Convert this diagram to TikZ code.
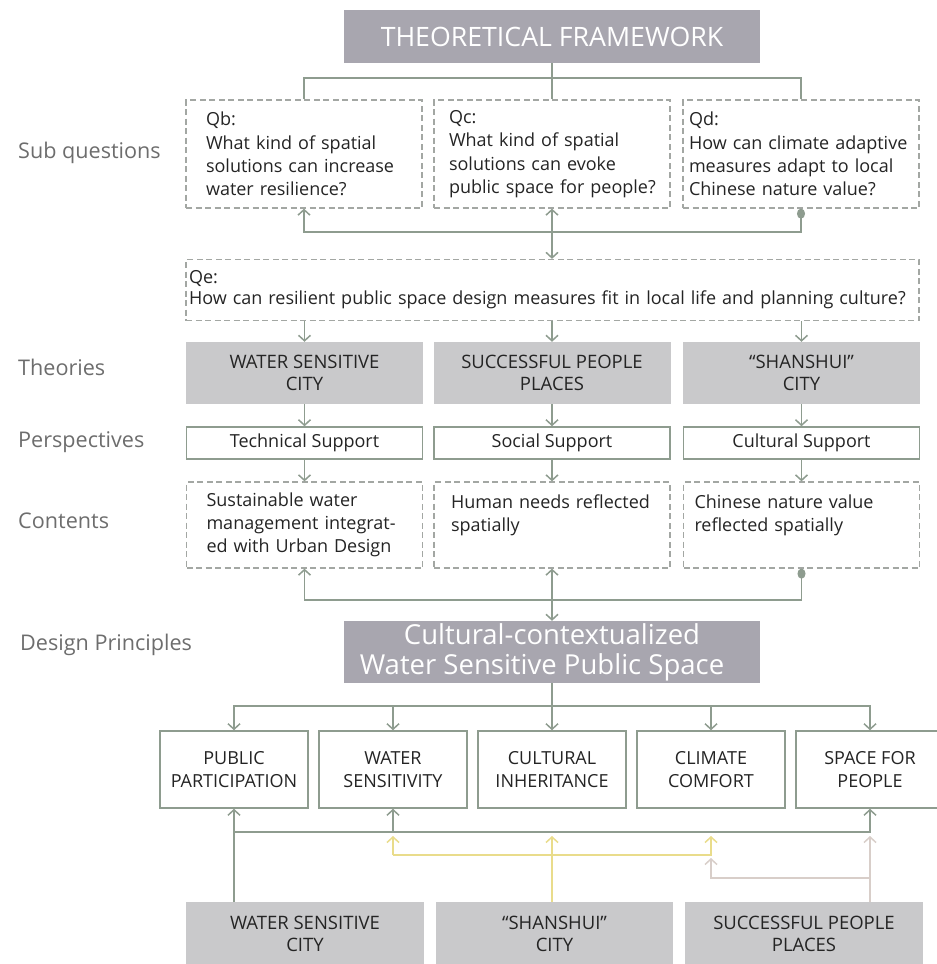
\documentclass[tikz,border=0pt]{standalone}
\usepackage{fontspec}
\setmainfont{Open Sans}
\usetikzlibrary{arrows.meta,calc}
\definecolor{titlegray}{HTML}{A8A6AF}
\definecolor{theorygray}{HTML}{C9C9CB}
\definecolor{connc}{HTML}{8E9C8F}
\definecolor{dashc}{HTML}{A3A7A3}
\definecolor{labelc}{HTML}{6D6D6D}
\definecolor{textc}{HTML}{242424}
\definecolor{yelc}{HTML}{E9DC8B}
\definecolor{beic}{HTML}{D8CEC9}
\begin{document}
\begin{tikzpicture}[x=1pt,y=-1pt,
  conn/.style={draw=connc, line width=1.5pt},
  yelline/.style={draw=yelc, line width=1.5pt},
  beiline/.style={draw=beic, line width=1.5pt},
  arrowend/.style={-{Straight Barb[length=5.5pt,width=12pt]}},
  bothends/.style={{Straight Barb[length=5.5pt,width=12pt]}-{Straight Barb[length=5.5pt,width=12pt]}},
  dotend/.style={-{Ellipse[length=10pt,width=8pt]}},
  sidelabel/.style={anchor=west, text=labelc, font=\fontsize{21.6}{25}\selectfont, inner sep=0pt},
  bodyfont/.style={font=\fontsize{18}{23.3}\selectfont, text=textc},
  dashbox/.style={draw=dashc, line width=1.3pt, dash pattern=on 6pt off 3.5pt},
  qbox/.style={bodyfont, dashbox, minimum width=236pt, minimum height=108pt, align=left},
  cobox/.style={bodyfont, dashbox, minimum width=236pt, minimum height=86pt, align=left},
  thbox/.style={font=\fontsize{18.5}{22.5}\selectfont, text=textc, fill=theorygray, minimum width=237pt, minimum height=62pt, align=center, inner sep=0pt},
  pebox/.style={bodyfont, draw=connc, line width=1.5pt, fill=white, minimum width=236pt, minimum height=32pt, inner sep=0pt},
  prbox/.style={bodyfont, draw=connc, line width=1.5pt, fill=white, minimum width=148pt, minimum height=77pt, align=center, inner sep=0pt},
  headbox/.style={fill=titlegray, text=white, align=center, inner sep=0pt}
]
\useasboundingbox (0,0) rectangle (937,964);

% title
\node[headbox, minimum width=416pt, minimum height=53pt, font=\fontsize{26.7}{30}\selectfont] (title) at (552,36.5) {THEORETICAL FRAMEWORK};

% side labels
\node[sidelabel] (lsub) at (18,153) {Sub questions};
\node[sidelabel] (lth) at (18,367) {Theories};
\node[sidelabel] (lpe) at (18,442) {Perspectives};
\node[sidelabel] (lco) at (18,521) {Contents};
\node[sidelabel] (lds) at (20,645) {Design Principles};

% sub questions
\node[qbox, text width=196pt, inner xsep=20pt] (qb) at (304,154) {Qb:\\What kind of spatial\\solutions can increase\\water resilience?};
\node[qbox, text width=206pt, inner xsep=15pt] (qc) at (552,154) {Qc:\\What kind of spatial\\solutions can evoke\\\mbox{public space for people?}};
\node[qbox, text width=224pt, inner xsep=6pt] (qd) at (801,154) {Qd:\\How can climate adaptive\\measures adapt to local\\Chinese nature value?};

\node[dashbox, text=textc, minimum width=733pt, minimum height=61pt, text width=727pt, inner xsep=3pt, align=left, font=\fontsize{18}{21}\selectfont] (qe) at (552.5,290)
  {Qe:\\\mbox{How can resilient public space design measures fit in local life and planning culture?}};

% theories
\node[thbox] (th1) at (304.5,373) {WATER SENSITIVE\\CITY};
\node[thbox] (th2) at (552,373) {SUCCESSFUL PEOPLE\\PLACES};
\node[thbox] (th3) at (801.5,373) {“SHANSHUI”\\CITY};

% perspectives
\node[pebox] (pe1) at (304.5,443) {Technical Support};
\node[pebox] (pe2) at (552,443) {Social Support};
\node[pebox] (pe3) at (801.5,443) {Cultural Support};

% contents
\node[cobox, inner xsep=20pt, text width=196pt] (co1) at (304.5,525) {Sustainable water\\management integrat-\\ed with Urban Design};
\node[cobox, inner xsep=17pt, text width=202pt] (co2) at (552,525) {Human needs reflected\\spatially\\\mbox{}};
\node[cobox, inner xsep=11pt, text width=214pt] (co3) at (801.5,525) {Chinese nature value\\reflected spatially\\\mbox{}};

% design box
\node[headbox, minimum width=416pt, minimum height=62pt, font=\fontsize{27.5}{30}\selectfont] (ds) at (552,652) {Cultural-contextualized\\Water Sensitive Public Space\hspace*{20pt}};

% principles
\node[prbox] (p1) at (234,769.5) {PUBLIC\\PARTICIPATION};
\node[prbox] (p2) at (393,769.5) {WATER\\SENSITIVITY};
\node[prbox] (p3) at (552,769.5) {CULTURAL\\INHERITANCE};
\node[prbox] (p4) at (711,769.5) {CLIMATE\\COMFORT};
\node[prbox] (p5) at (870,769.5) {SPACE FOR\\PEOPLE};

% bottom theories
\node[thbox, minimum width=238pt, minimum height=64pt] (b1) at (305,934) {WATER SENSITIVE\\CITY};
\node[thbox, minimum width=237pt, minimum height=64pt] (b2) at (554.5,934) {“SHANSHUI”\\CITY};
\node[thbox, minimum width=238pt, minimum height=64pt] (b3) at (804,934) {SUCCESSFUL PEOPLE\\PLACES};

% junction coordinates
\coordinate (j1) at (552,78);
\coordinate (j2) at (552,232);
\coordinate (j3) at (552,600);
\coordinate (j4) at (552,706);
\coordinate (g1) at (234,832);
\coordinate (yt2) at (393,836);
\coordinate (yt3) at (552,836);
\coordinate (yt4) at (711,836);
\coordinate (yl) at (393,855);
\coordinate (yr) at (711,855);
\coordinate (bt5) at (870,836);
\coordinate (br) at (870,878);
\coordinate (bl) at (711,878);
\coordinate (bt4) at (711,858);

% top connectors
\draw[conn] (title.south) -- (j1);
\draw[conn] (j1) -| (qb.north);
\draw[conn] (j1) -| (qd.north);
\draw[conn] (j1) -- (qc.north);

\draw[conn, bothends] (qc.south) -- (qe.north -| qc.south);
\draw[conn, arrowend] (j2) -| (qb.south);
\draw[conn, dotend] (j2) -| (qd.south);

% qe to theories
\draw[conn, arrowend] (qe.south -| th1.north) -- (th1.north);
\draw[conn, arrowend] (qe.south -| th2.north) -- (th2.north);
\draw[conn, arrowend] (qe.south -| th3.north) -- (th3.north);

\draw[conn, arrowend] (th1.south) -- (pe1.north);
\draw[conn, arrowend] (th2.south) -- (pe2.north);
\draw[conn, arrowend] (th3.south) -- (pe3.north);

\draw[conn, arrowend] (pe1.south) -- (co1.north);
\draw[conn, arrowend] (pe2.south) -- (co2.north);
\draw[conn, arrowend] (pe3.south) -- (co3.north);

% contents to design
\draw[conn, bothends] (co2.south) -- (ds.north);
\draw[conn, arrowend] (j3) -| (co1.south);
\draw[conn, dotend] (j3) -| (co3.south);

% design to principles
\draw[conn] (ds.south) -- (j4);
\draw[conn, arrowend] (j4) -| (p1.north);
\draw[conn, arrowend] (j4) -| (p2.north);
\draw[conn, arrowend] (j4) -- (p3.north);
\draw[conn, arrowend] (j4) -| (p4.north);
\draw[conn, arrowend] (j4) -| (p5.north);

% bottom green
\draw[conn, arrowend] (b1.north -| p1.south) -- (p1.south);
\draw[conn, arrowend] (g1) -| (p2.south);
\draw[conn, arrowend] (g1) -| (p5.south);

% bottom yellow
\draw[yelline, arrowend] (b2.north -| yt3) -- (yt3);
\draw[yelline, arrowend] (yl) -- (yt2);
\draw[yelline, arrowend] (yl) -- (yr) -- (yt4);

% bottom beige
\draw[beiline, arrowend] (b3.north -| bt5) -- (bt5);
\draw[beiline, arrowend] (br) -- (bl) -- (bt4);
\end{tikzpicture}
\end{document}
